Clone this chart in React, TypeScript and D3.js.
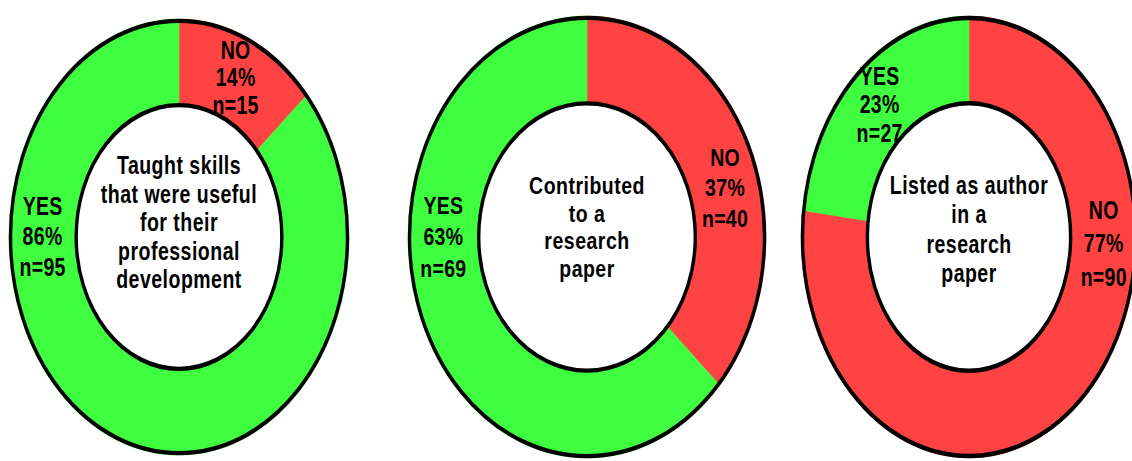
import React from "react";
import * as d3 from "d3";

// ---- data ----
const categories = ["NO", "YES"];
const counts1 = [15, 95];
const counts2 = [40, 69];
const counts3 = [90, 27];
const percents1 = [14, 86];
const percents2 = [37, 63];
const percents3 = [77, 23];
const title1 = ["Taught skills", "that were useful", "for their", "professional", "development"];
const title2 = ["Contributed", "to a", "research", "paper"];
const title3 = ["Listed as author", "in a", "research", "paper"];

const colors: Record<string, string> = { NO: "#ff4242", YES: "#3ffd3f" };

// ---- layout (not data) ----
const W = 1132;
const H = 461;
const layouts = [
  { cx: 179, cy: 237, rx: 170, ry: 218, labelDeg: [null, 270], titleShift: -11, labelH: [21.5, 24] },
  { cx: 587, cy: 237, rx: 179, ry: 221, labelDeg: [74, 270], titleShift: -8, labelH: [24.5, 25.5] },
  { cx: 969, cy: 237, rx: 168, ry: 221, labelDeg: [92, null], titleShift: -6, labelH: [25.5, 21.5] },
];
const INNER = 0.605;
const FONT = "'Liberation Sans', Arial, sans-serif";

type ChartProps = {
  counts: number[];
  percents: number[];
  title: string[];
  layout: (typeof layouts)[number];
};

function Donut({ counts, percents, title, layout }: ChartProps) {
  const { cx, cy, rx, ry, labelDeg, titleShift, labelH } = layout;
  const r = rx;
  const sy = ry / rx;
  const pie = d3.pie<number>().sort(null).value((d) => d);
  const arcs = pie(counts);
  const arc = d3.arc<d3.PieArcDatum<number>>().innerRadius(r * INNER).outerRadius(r);
  const rMid = (r * (1 + INNER)) / 2;
  const titleH = 22.3;

  return (
    <g transform={`translate(${cx},${cy}) scale(1,${sy})`}>
      {arcs.map((a, i) => (
        <path key={i} d={arc(a) || ""} fill={colors[categories[i]]} stroke={colors[categories[i]]} strokeWidth={0.5} />
      ))}
      <circle r={r - 1.5} fill="none" stroke="#000" strokeWidth={3.4} />
      <circle r={r * INNER} fill="#fff" stroke="#000" strokeWidth={3.4} />
      {arcs.map((a, i) => {
        const deg = labelDeg[i];
        const ang = deg == null ? (a.startAngle + a.endAngle) / 2 : (deg * Math.PI) / 180;
        const x = Math.sin(ang) * rMid;
        const y = -Math.cos(ang) * rMid;
        const lines = [categories[i], `${percents[i]}%`, `n=${counts[i]}`];
        return (
          <text key={i} x={x} y={y} textAnchor="middle" fontFamily={FONT} fontWeight="bold" fontSize={19.5} letterSpacing={0.3} fill="#000">
            {lines.map((t, j) => (
              <tspan key={j} x={x} y={y + (j - 1) * labelH[i]} dominantBaseline="central">
                {t}
              </tspan>
            ))}
          </text>
        );
      })}
      <text textAnchor="middle" fontFamily={FONT} fontWeight="bold" fontSize={19.5} letterSpacing={0.5} fill="#000">
        {title.map((t, j) => (
          <tspan key={j} x={0} y={titleShift + (j - (title.length - 1) / 2) * titleH} dominantBaseline="central">
            {t}
          </tspan>
        ))}
      </text>
    </g>
  );
}

export default function App() {
  return (
    <svg width={W} height={H} style={{ position: "absolute", left: 0, top: 0, background: "#fff" }}>
      <rect width={W} height={H} fill="#fff" />
      <Donut counts={counts1} percents={percents1} title={title1} layout={layouts[0]} />
      <Donut counts={counts2} percents={percents2} title={title2} layout={layouts[1]} />
      <Donut counts={counts3} percents={percents3} title={title3} layout={layouts[2]} />
    </svg>
  );
}
